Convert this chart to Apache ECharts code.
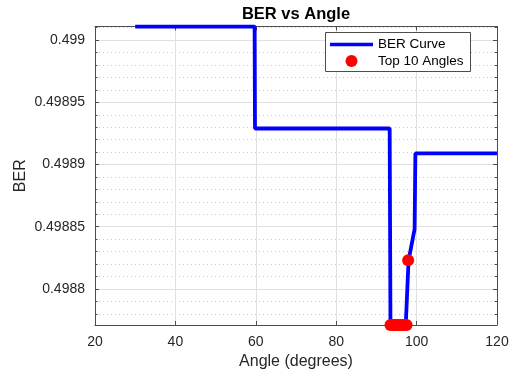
<!DOCTYPE html>
<html>
<head>
<meta charset="utf-8">
<script src="https://cdn.jsdelivr.net/npm/echarts@6/dist/echarts.min.js"></script>
<style>html,body{margin:0;padding:0;background:#fff;}#c{width:518px;height:375px;}</style>
</head>
<body>
<div id="c"></div>
<script>
// BER curve (step-like line)
const curveAngles = [30, 59.7, 59.8, 93.3, 93.5, 97.3, 98.0, 99.5, 99.7, 120];
const curveBER = [0.499011, 0.499011, 0.498929, 0.498929, 0.498771, 0.498771, 0.498823, 0.498848, 0.498909, 0.498909];
// Top 10 angles (lowest BER)
const topAngles = [93.5, 94.0, 94.5, 95.0, 95.5, 96.0, 96.5, 97.0, 97.5, 97.9];
const topBER = [0.498771, 0.498771, 0.498771, 0.498771, 0.498771, 0.498771, 0.498771, 0.498771, 0.498771, 0.498823];
// Axis ticks
const xTicks = [20, 40, 60, 80, 100, 120];
const yMajorTicks = [0.4988, 0.49885, 0.4989, 0.49895, 0.499];
const yMinorTicks = [0.49878, 0.49879, 0.49881, 0.49882, 0.49883, 0.49884, 0.49886, 0.49887, 0.49888, 0.49889,
  0.49891, 0.49892, 0.49893, 0.49894, 0.49896, 0.49897, 0.49898, 0.49899, 0.49901];
const yMin = 0.498771, yMax = 0.499011;

const FONT = '"Liberation Sans", Arial, Helvetica, sans-serif';
const axisCol = '#4d4d4d';
const chart = echarts.init(document.getElementById('c'), null, {renderer: 'canvas'});
const fmt = v => String(parseFloat(Number(v).toFixed(6)));

function yAx(pos, custom, opts) {
  return Object.assign({
    type: 'value', position: pos, min: yMin, max: yMax,
    axisLine: {show: true, onZero: false, lineStyle: {color: axisCol, width: 1}},
    axisTick: {show: true, inside: true, length: 4, customValues: custom, lineStyle: {color: axisCol}},
    axisLabel: {show: false, customValues: custom},
    splitLine: {show: false}
  }, opts || {});
}

const option = {
  animation: false,
  backgroundColor: '#fff',
  title: {
    text: 'BER vs Angle', left: 296, top: 6, textAlign: 'center', padding: 0,
    textStyle: {fontFamily: FONT, fontSize: 16.5, fontWeight: 'bold', color: '#000'}
  },
  grid: {left: 95, right: 21, top: 26.5, bottom: 48, containLabel: false},
  xAxis: [
    {
      type: 'value', position: 'bottom', min: 20, max: 120, interval: 20,
      name: 'Angle (degrees)', nameLocation: 'middle', nameGap: 29,
      nameTextStyle: {fontFamily: FONT, fontSize: 16, color: '#262626'},
      axisLine: {show: true, onZero: false, lineStyle: {color: axisCol}},
      axisTick: {show: true, inside: true, length: 4, lineStyle: {color: axisCol}},
      axisLabel: {fontFamily: FONT, fontSize: 14, color: '#262626', margin: 10},
      splitLine: {show: true, lineStyle: {color: '#e0e0e0', width: 1}}
    },
    {
      type: 'value', position: 'top', min: 20, max: 120, interval: 20,
      axisLine: {show: true, onZero: false, lineStyle: {color: axisCol}},
      axisTick: {show: true, inside: true, length: 4, lineStyle: {color: axisCol}},
      axisLabel: {show: false}, splitLine: {show: false}
    }
  ],
  yAxis: [
    yAx('left', yMajorTicks, {
      name: 'BER', nameLocation: 'middle', nameGap: 66, nameRotate: 90, nameMoveOverlap: false,
      nameTextStyle: {fontFamily: FONT, fontSize: 16, color: '#262626'},
      axisLabel: {show: true, customValues: yMajorTicks, fontFamily: FONT, fontSize: 14, color: '#262626', margin: 10, formatter: fmt},
      splitLine: {show: true, lineStyle: {color: '#e0e0e0', width: 1}}
    }),
    yAx('right', yMajorTicks),
    yAx('left', yMinorTicks, {
      axisLine: {show: false},
      axisTick: {show: true, inside: true, length: 2.5, customValues: yMinorTicks, lineStyle: {color: axisCol}},
      splitLine: {show: true, lineStyle: {color: '#c8c8c8', width: 1, type: [1, 3]}}
    }),
    yAx('right', yMinorTicks, {
      axisLine: {show: false},
      axisTick: {show: true, inside: true, length: 2.5, customValues: yMinorTicks, lineStyle: {color: axisCol}}
    })
  ],
  legend: [
    {
      data: [{name: 'BER Curve', icon: 'rect'}],
      left: 330, top: 37.5, itemWidth: 43, itemHeight: 3.5, itemGap: 0, padding: 0,
      selectedMode: false,
      textStyle: {fontFamily: FONT, fontSize: 13.5, color: '#000', padding: [0, 0, 0, 0]}
    },
    {
      data: [{name: 'Top 10 Angles', icon: 'circle'}],
      left: 345.5, top: 54, itemWidth: 43, itemHeight: 12, itemGap: 0, padding: 0,
      selectedMode: false,
      textStyle: {fontFamily: FONT, fontSize: 13.5, color: '#000'}
    }
  ],
  graphic: [
    {type: 'rect', left: 325, top: 32, shape: {width: 145, height: 39}, z: 100,
     style: {fill: 'rgba(255,255,255,0)', stroke: '#4d4d4d', lineWidth: 1}, silent: true},
    {type: 'rect', left: 325, top: 32, shape: {width: 145, height: 39}, z: 1,
     style: {fill: '#fff', stroke: 'none'}, silent: true}
  ],
  series: [
    {
      name: 'BER Curve', type: 'line', xAxisIndex: 0, yAxisIndex: 0,
      data: curveAngles.map((a, i) => [a, curveBER[i]]),
      showSymbol: false, symbol: 'none',
      lineStyle: {color: '#0000ff', width: 3.8},
      itemStyle: {color: '#0000ff'},
      z: 3
    },
    {
      name: 'Top 10 Angles', type: 'scatter', xAxisIndex: 0, yAxisIndex: 0,
      data: topAngles.map((a, i) => [a, topBER[i]]),
      symbol: 'circle', symbolSize: 12, clip: false,
      itemStyle: {color: '#ff0000', opacity: 1},
      z: 4
    }
  ]
};
chart.setOption(option);
</script>
</body>
</html>
